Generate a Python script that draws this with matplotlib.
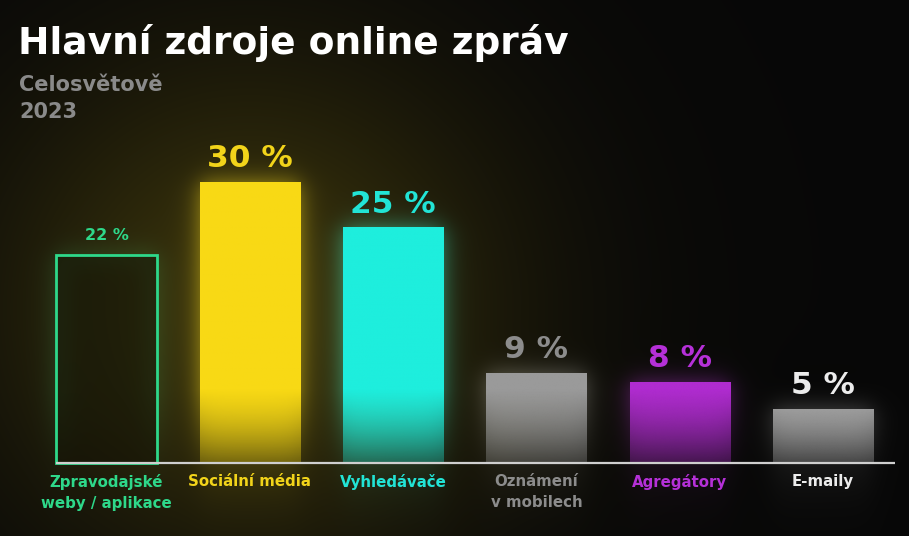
import numpy as np
import matplotlib
matplotlib.use("Agg")
import matplotlib.pyplot as plt
from matplotlib.colors import to_rgb

# ---- data ----
categories = ["Zpravodajské\nweby / aplikace", "Sociální média", "Vyhledávače",
              "Oznámení\nv mobilech", "Agregátory", "E-maily"]
values = [22, 30, 25, 9, 8, 5]
value_labels = ["22 %", "30 %", "25 %", "9 %", "8 %", "5 %"]
bar_colors = ["#2ed88a", "#f8d915", "#1eeedd", "#9a9a9a", "#b02cd0", "#b8b8b8"]
text_colors = ["#2ed88a", "#f2d41a", "#22e4d6", "#8c8c8c", "#b530d8", "#ececec"]
outline_only = [True, False, False, False, False, False]
label_sizes = [11.5, 22.5, 22.5, 22.5, 22.5, 22.5]

title = "Hlavní zdroje online zpráv"
subtitle = "Celosvětově\n2023"

plt.rcParams['font.family'] = ['DejaVu Sans']

W, H = 909, 536
fig = plt.figure(figsize=(W / 100, H / 100), dpi=100)
fig.patch.set_facecolor("#080808")
ax = fig.add_axes([0, 0, 1, 1])
ax.set_axis_off()

# geometry (pixel layout of the reference)
x0_px, step_px = 106.5, 143.3
base_px, unit_px = 73.0, 9.08
BASE = -0.95          # bars start a little below the zero of the value scale
xlim = (-x0_px / step_px, (W - x0_px) / step_px)
ylim = (BASE - base_px / unit_px, BASE + (H - base_px) / unit_px)

x = np.arange(len(values))
bw = 0.70

# ---- background with glows ----
X, Y = np.meshgrid(np.linspace(*xlim, W), np.linspace(*ylim, H))
img = np.full((H, W, 3), 0.03)
# broad warm haze behind the left bars
haze = np.exp(-(((X - 1.0) / 1.8) ** 2) - (((Y - 16) / 28) ** 2))
img += haze[..., None] * np.array(to_rgb("#f8d915")) * 0.20

def sig(z):
    return 1.0 / (1.0 + np.exp(-z))

sx, sy = 7 / step_px, 7 / unit_px
for xi, v, c, ol in zip(x, values, bar_colors, outline_only):
    l, r = xi - bw / 2, xi + bw / 2
    top = v
    gx = sig((X - l) / sx) - sig((X - r) / sx)
    gy = sig((top - Y) / sy) - sig((BASE - Y) / (sy * 3))
    fade = np.clip(0.35 + 0.65 * (Y - BASE) / 8.0, 0.35, 1.0)
    strength = 0.25 if ol else 0.5
    g = gx * gy * fade * strength
    if ol:
        inner_x = sig((X - (l + 0.04)) / sx) - sig((X - (r - 0.04)) / sx)
        inner_y = sig(((top - 0.4) - Y) / sy)
        g = g * (1 - 0.9 * inner_x * inner_y)
    img += g[..., None] * np.array(to_rgb(c))
img = np.clip(img, 0, 1)
ax.imshow(img, extent=(*xlim, *ylim), origin="lower", aspect="auto", zorder=0,
          interpolation="bilinear")

# ---- bars ----
bars = ax.bar(x, [v - BASE for v in values], bottom=BASE, width=bw,
              color="none", edgecolor="none", zorder=3)
for b, c, ol, v in zip(bars, bar_colors, outline_only, values):
    l = b.get_x()
    r = l + b.get_width()
    top = b.get_y() + b.get_height()
    if ol:
        b.set_edgecolor(c)
        b.set_linewidth(2.0)
        b.set_facecolor((0.08, 0.07, 0.02, 0.55))
        continue
    n = 300
    yy = np.linspace(BASE, top, n)
    a = np.clip(0.3 + 0.7 * (yy - BASE) / 8.0, 0.3, 1.0)
    rgb = np.array(to_rgb(c))
    grad = np.zeros((n, 2, 4))
    grad[..., :3] = rgb
    grad[..., 3] = a[:, None]
    im = ax.imshow(grad, extent=(l, r, BASE, top), origin="lower",
                   aspect="auto", zorder=3, interpolation="bilinear")
    im.set_clip_path(b)

# value labels
for b, lab, tc, fs in zip(bars, value_labels, text_colors, label_sizes):
    cx = b.get_x() + b.get_width() / 2
    top = b.get_y() + b.get_height()
    ax.annotate(lab, (cx, top), xytext=(0, 10.5), textcoords="offset points",
                ha="center", va="baseline", color=tc, fontsize=fs,
                fontweight="bold", zorder=5)

# baseline
ax.plot([x[0] - bw / 2, xlim[1] - 0.1], [BASE, BASE], color="#cfcfcf",
        lw=1.6, zorder=4, solid_capstyle="butt")

# category labels
for xi, cat, tc in zip(x, categories, text_colors):
    ax.annotate(cat, (xi, BASE), xytext=(0, -8), textcoords="offset points",
                ha="center", va="top", color=tc, fontsize=10.8,
                fontweight="bold", linespacing=1.45, zorder=5)

ax.set_xlim(*xlim)
ax.set_ylim(*ylim)

# title & subtitle
fig.text(18 / W, 1 - 54 / H, title, color="white", fontsize=27,
         fontweight="bold", ha="left", va="baseline")
fig.text(19 / W, 1 - 91 / H, "Celosvětově", color="#8a8a8a", fontsize=15,
         fontweight="bold", ha="left", va="baseline")
fig.text(19 / W, 1 - 118 / H, "2023", color="#8a8a8a", fontsize=15,
         fontweight="bold", ha="left", va="baseline")

fig.savefig("out.png", dpi=100, facecolor=fig.get_facecolor())
